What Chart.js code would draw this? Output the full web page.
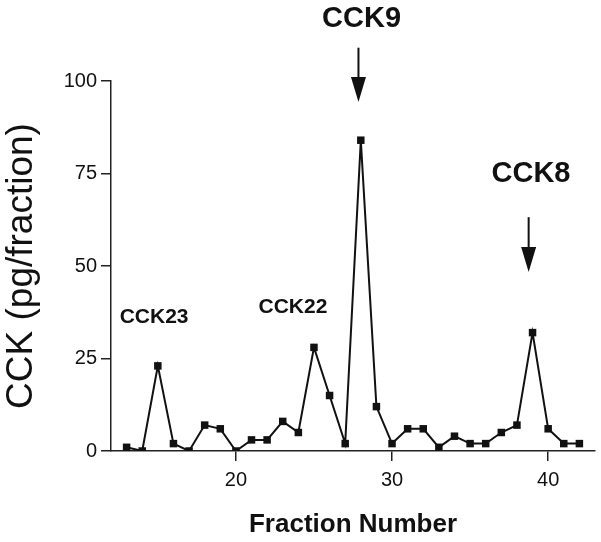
<!DOCTYPE html>
<html>
<head>
<meta charset="utf-8">
<script src="https://cdn.jsdelivr.net/npm/chart.js@4/dist/chart.umd.min.js"></script>
<style>
  html, body { margin: 0; padding: 0; background: #fff; }
  canvas { display: block; }
</style>
</head>
<body>
<canvas id="c" width="601" height="542"></canvas>
<script>
// ---- data ----
const fractions = [13, 14, 15, 16, 17, 18, 19, 20, 21, 22, 23, 24, 25, 26, 27, 28, 29, 30, 31, 32, 33, 34, 35, 36, 37, 38, 39, 40, 41, 42];
const cckValues = [1, 0, 23, 2, 0, 7, 6, 0, 3, 3, 8, 5, 28, 15, 2, 84, 12, 2, 6, 6, 1, 4, 2, 2, 5, 7, 32, 6, 2, 2];
const xTickValues = [20, 30, 40];
const yTickValues = [0, 25, 50, 75, 100];

// peak annotations (data coordinates)
const peakLabels = ['CCK9', 'CCK8', 'CCK22', 'CCK23'];
const peakLabelX = [28.05, 38.9, 23.65, 14.76];
const peakLabelY = [116.8, 75, 38.9, 36.2];
const peakLabelBig = [true, true, false, false];
const arrowX = [27.85, 38.75];
const arrowFromY = [109, 63.2];
const arrowToY = [94.3, 48.4];

const FONT = "'Liberation Sans', Arial, Helvetica, sans-serif";
const INK = '#111';
const AXIS = '#222';

const annotationPlugin = {
  id: 'peakAnnotations',
  afterDatasetsDraw(chart) {
    const ctx = chart.ctx;
    const xs = chart.scales.x, ys = chart.scales.y;
    ctx.save();
    ctx.fillStyle = INK;
    ctx.textAlign = 'center';
    ctx.textBaseline = 'middle';
    peakLabels.forEach((t, i) => {
      ctx.font = 'bold ' + (peakLabelBig[i] ? 29 : 21) + 'px ' + FONT;
      ctx.fillText(t, xs.getPixelForValue(peakLabelX[i]), ys.getPixelForValue(peakLabelY[i]));
    });
    ctx.strokeStyle = INK;
    ctx.lineWidth = 2;
    arrowX.forEach((ax, i) => {
      const px = xs.getPixelForValue(ax);
      const y0 = ys.getPixelForValue(arrowFromY[i]);
      const y1 = ys.getPixelForValue(arrowToY[i]);
      const headH = 25, headW = 7.5;
      ctx.beginPath();
      ctx.moveTo(px, y0);
      ctx.lineTo(px, y1 - headH + 2);
      ctx.stroke();
      ctx.beginPath();
      ctx.moveTo(px - headW, y1 - headH);
      ctx.lineTo(px + headW, y1 - headH);
      ctx.lineTo(px, y1);
      ctx.closePath();
      ctx.fill();
    });
    ctx.restore();
  }
};

Chart.defaults.font.family = FONT;
Chart.defaults.color = INK;

new Chart(document.getElementById('c'), {
  type: 'line',
  data: {
    datasets: [{
      data: fractions.map((f, i) => ({ x: f, y: cckValues[i] })),
      borderColor: INK,
      backgroundColor: INK,
      borderWidth: 2,
      pointStyle: 'rect',
      pointRadius: 5.3,
      pointBorderWidth: 0,
      tension: 0,
      fill: false
    }]
  },
  options: {
    responsive: false,
    animation: false,
    layout: { padding: { top: 81, right: 6, bottom: 0, left: 0 } },
    plugins: { legend: { display: false }, tooltip: { enabled: false } },
    scales: {
      x: {
        type: 'linear',
        min: 12,
        max: 43,
        afterBuildTicks: s => { s.ticks = xTickValues.map(v => ({ value: v })); },
        afterFit: s => { s.height = 91; },
        grid: { drawOnChartArea: false, drawTicks: true, tickLength: 10, color: AXIS, lineWidth: 1.5 },
        border: { display: true, color: AXIS, width: 1.5 },
        ticks: { font: { size: 20 }, color: INK, padding: 7, maxRotation: 0, autoSkip: false },
        title: { display: true, text: 'Fraction Number', font: { size: 26, weight: 'bold' }, color: INK, padding: { top: 0, bottom: 2 } }
      },
      y: {
        min: 0,
        max: 100,
        afterBuildTicks: s => { s.ticks = yTickValues.map(v => ({ value: v })); },
        afterFit: s => { s.width = 111; },
        grid: { drawOnChartArea: false, drawTicks: true, tickLength: 10, color: AXIS, lineWidth: 1.5 },
        border: { display: true, color: AXIS, width: 1.5 },
        ticks: { font: { size: 20 }, color: INK, padding: 4 },
        title: { display: true, text: 'CCK (pg/fraction)', font: { size: 37, lineHeight: 1.1 }, color: INK, padding: { top: 1, bottom: 0 } }
      }
    }
  },
  plugins: [annotationPlugin]
});
</script>
</body>
</html>
